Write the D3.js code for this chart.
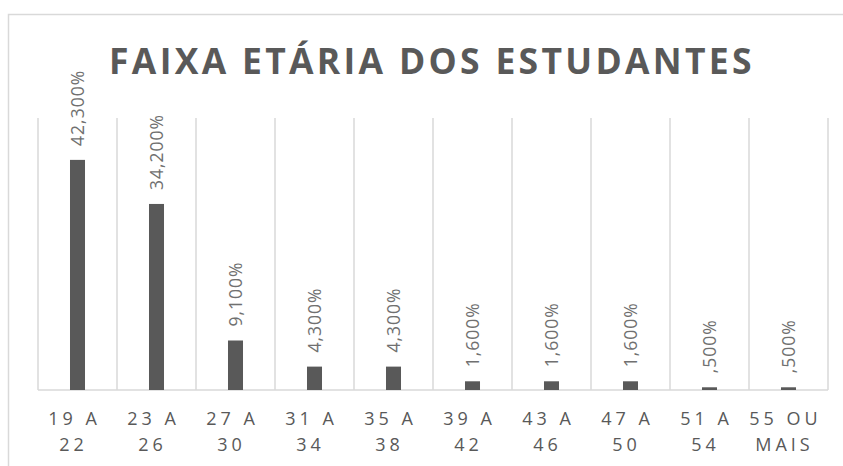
<!DOCTYPE html>
<html>
<head>
<meta charset="utf-8">
<script src="https://cdn.jsdelivr.net/npm/d3@7"></script>
<style>
  body { margin: 0; background: #fff; }
  svg { display: block; font-family: "Open Sans", sans-serif; }
</style>
</head>
<body>
<svg id="chart"></svg>
<script>
"use strict";

// age groups, split in two lines like the original labels
const ageLine1 = ["19 A", "23 A", "27 A", "31 A", "35 A", "39 A", "43 A", "47 A", "51 A", "55 OU"];
const ageLine2 = ["22", "26", "30", "34", "38", "42", "46", "50", "54", "MAIS"];
const percent = [42.3, 34.2, 9.1, 4.3, 4.3, 1.6, 1.6, 1.6, 0.5, 0.5];
const percentLabels = ["42,300%", "34,200%", "9,100%", "4,300%", "4,300%", "1,600%", "1,600%", "1,600%", ",500%", ",500%"];

const width = 843;
const height = 466;
const marginTop = 118;
const marginRight = 15;
const marginBottom = 76;
const marginLeft = 38;

const svg = d3.select("#chart")
    .attr("width", width)
    .attr("height", height)
    .attr("viewBox", [0, 0, width, height]);

// chart frame (runs off the right and bottom edge)
svg.append("rect")
    .attr("x", 8.5)
    .attr("y", 14.5)
    .attr("width", 850)
    .attr("height", 470)
    .attr("fill", "none")
    .attr("stroke", "#d9d9d9")
    .attr("stroke-width", 1.5);

const x = d3.scaleBand()
    .domain(d3.range(percent.length))
    .range([marginLeft, width - marginRight])
    .padding(0);

const y = d3.scaleLinear()
    .domain([0, 50])
    .range([height - marginBottom, marginTop]);

// vertical gridlines at category boundaries
const bounds = x.domain().map(i => x(i)).concat([x.range()[1]]);
svg.append("g")
    .attr("stroke", "#d9d9d9")
    .attr("stroke-width", 1.5)
    .selectAll("line")
    .data(bounds)
    .join("line")
    .attr("x1", d => d)
    .attr("x2", d => d)
    .attr("y1", y(50))
    .attr("y2", y(0));

// baseline
svg.append("line")
    .attr("x1", marginLeft)
    .attr("x2", width - marginRight)
    .attr("y1", y(0))
    .attr("y2", y(0))
    .attr("stroke", "#d9d9d9")
    .attr("stroke-width", 1.5);

const barWidth = x.bandwidth() * 0.19;

// bars
svg.append("g")
    .attr("fill", "#595959")
    .selectAll("rect")
    .data(percent)
    .join("rect")
    .attr("x", (d, i) => x(i) + x.bandwidth() / 2 - barWidth / 2)
    .attr("y", d => y(d))
    .attr("width", barWidth)
    .attr("height", d => y(0) - y(d));

// rotated value labels
svg.append("g")
    .attr("fill", "#707070")
    .style("font-size", "17.5px")
    .style("letter-spacing", "1px")
    .selectAll("text")
    .data(percent)
    .join("text")
    .attr("transform", (d, i) => `translate(${x(i) + x.bandwidth() / 2 + 6},${y(d) - 14}) rotate(-90)`)
    .attr("text-anchor", "start")
    .text((d, i) => percentLabels[i]);

// category labels (two lines)
const cat = svg.append("g")
    .attr("fill", "#595959")
    .style("font-size", "18px")
    .style("letter-spacing", "4px")
    .attr("text-anchor", "middle");

cat.selectAll("text.l1")
    .data(ageLine1)
    .join("text")
    .attr("class", "l1")
    .attr("x", (d, i) => x(i) + x.bandwidth() / 2 - 3)
    .attr("y", y(0) + 35)
    .text(d => d);

cat.selectAll("text.l2")
    .data(ageLine2)
    .join("text")
    .attr("class", "l2")
    .attr("x", (d, i) => x(i) + x.bandwidth() / 2 - 4)
    .attr("y", y(0) + 61)
    .text(d => d);

// title
svg.append("text")
    .attr("x", 432)
    .attr("y", 74)
    .attr("text-anchor", "middle")
    .attr("fill", "#595959")
    .style("font-size", "35.5px")
    .style("font-weight", "bold")
    .style("letter-spacing", "3.3px")
    .text("FAIXA ETÁRIA DOS ESTUDANTES");
</script>
</body>
</html>
